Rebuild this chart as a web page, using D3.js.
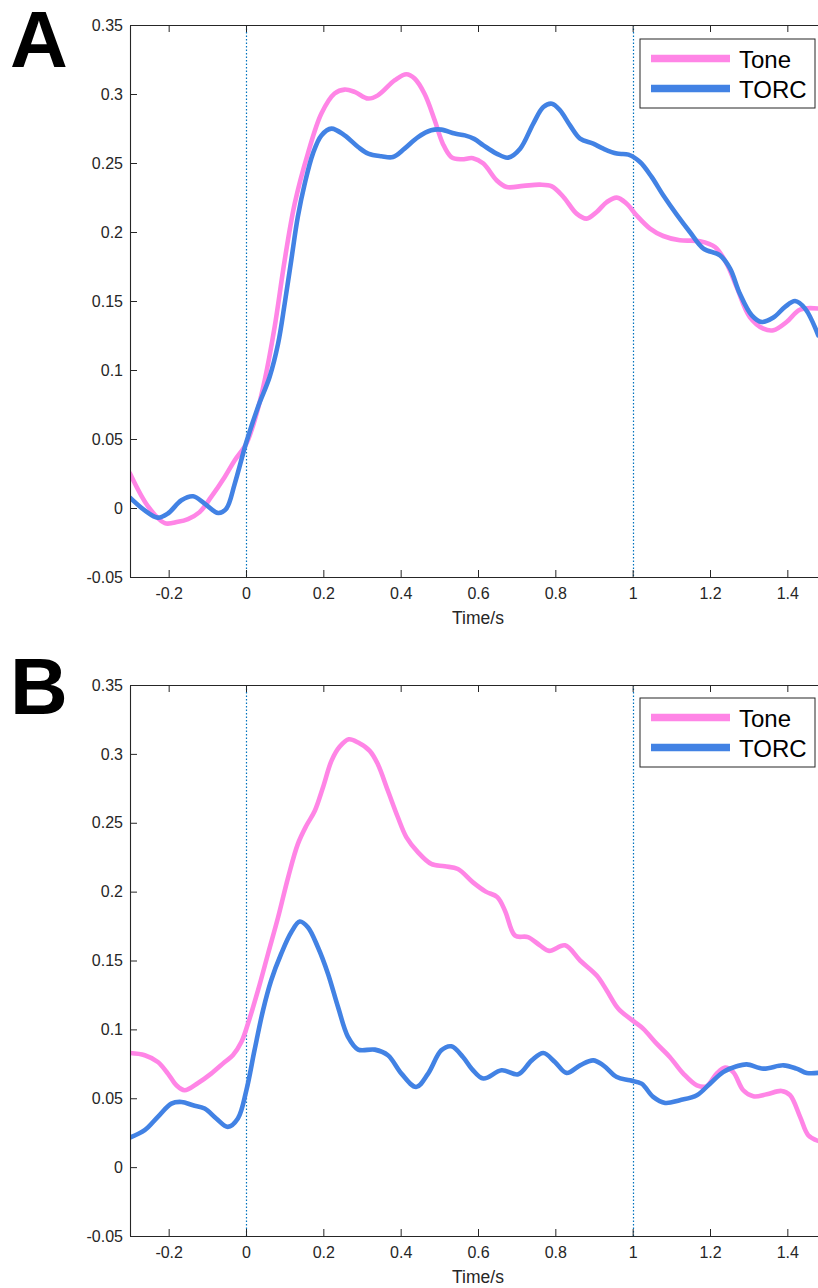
<!DOCTYPE html>
<html>
<head>
<meta charset="utf-8">
<script src="https://cdn.jsdelivr.net/npm/d3@7"></script>
<style>
  body { margin: 0; background: #fff; }
  svg { display: block; font-family: "Liberation Sans", Arial, Helvetica, sans-serif; }
</style>
</head>
<body>
<div id="chart"></div>
<script>
// time axis (s) and tick values
const xTicks = [-0.2, 0, 0.2, 0.4, 0.6, 0.8, 1, 1.2, 1.4];
const yTicks = [-0.05, 0, 0.05, 0.1, 0.15, 0.2, 0.25, 0.3, 0.35];
const seriesNames = ["Tone", "TORC"];
const markerTimes = [0, 1];

// panel A, Tone: [time, value]
const toneA = [
  [-0.3, 0.025], [-0.253, 0.001], [-0.21, -0.011], [-0.176, -0.010], [-0.15, -0.008],
  [-0.12, -0.003], [-0.09, 0.008], [-0.055, 0.0225], [-0.029, 0.0346], [0.001, 0.0467],
  [0.027, 0.068], [0.048, 0.092], [0.074, 0.131], [0.1, 0.1795], [0.126, 0.2206],
  [0.16, 0.2568], [0.195, 0.2858], [0.229, 0.3003], [0.255, 0.3032], [0.281, 0.3015],
  [0.316, 0.2967], [0.341, 0.299], [0.385, 0.310], [0.415, 0.3143], [0.436, 0.3112],
  [0.462, 0.300], [0.488, 0.281], [0.509, 0.264], [0.531, 0.2543], [0.557, 0.2527],
  [0.587, 0.2535], [0.614, 0.2496], [0.648, 0.2375], [0.674, 0.2326], [0.717, 0.2334],
  [0.76, 0.2343], [0.791, 0.2331], [0.821, 0.2254], [0.855, 0.2133], [0.881, 0.2097],
  [0.907, 0.2145], [0.933, 0.2217], [0.959, 0.2249], [0.984, 0.2206], [1.01, 0.2121],
  [1.045, 0.2025], [1.079, 0.1971], [1.122, 0.194], [1.174, 0.1933], [1.213, 0.1891],
  [1.243, 0.1771], [1.269, 0.160], [1.303, 0.1384], [1.338, 0.130], [1.364, 0.1288],
  [1.398, 0.1348], [1.433, 0.1438], [1.48, 0.1445]
];

// panel A, TORC
const torcA = [
  [-0.3, 0.0075], [-0.262, -0.0017], [-0.228, -0.007], [-0.202, -0.004], [-0.167, 0.0056],
  [-0.137, 0.0085], [-0.107, 0.0032], [-0.072, -0.0036], [-0.051, -0.0005], [-0.029, 0.0177],
  [0.001, 0.0478], [0.031, 0.0732], [0.061, 0.0949], [0.083, 0.1191], [0.1, 0.148],
  [0.117, 0.1795], [0.134, 0.2109], [0.152, 0.2351], [0.173, 0.2568], [0.195, 0.270],
  [0.221, 0.2749], [0.255, 0.270], [0.29, 0.2616], [0.316, 0.2568], [0.35, 0.2549],
  [0.38, 0.2543], [0.41, 0.2604], [0.445, 0.2688], [0.479, 0.2737], [0.505, 0.2742],
  [0.54, 0.2713], [0.566, 0.270], [0.59, 0.2675], [0.614, 0.2628], [0.648, 0.2568],
  [0.678, 0.2539], [0.709, 0.2604], [0.743, 0.2786], [0.769, 0.2906], [0.791, 0.293],
  [0.812, 0.2882], [0.838, 0.2773], [0.864, 0.2677], [0.898, 0.264], [0.924, 0.2604],
  [0.959, 0.2568], [0.989, 0.2561], [1.019, 0.2507], [1.049, 0.2399], [1.079, 0.2266],
  [1.114, 0.2126], [1.148, 0.200], [1.183, 0.188], [1.226, 0.1831], [1.252, 0.1735],
  [1.277, 0.1554], [1.308, 0.1396], [1.334, 0.1348], [1.364, 0.138], [1.394, 0.1457],
  [1.42, 0.150], [1.446, 0.1445], [1.48, 0.1251]
];

// panel B, Tone
const toneB = [
  [-0.3, 0.0828], [-0.262, 0.0812], [-0.228, 0.0763], [-0.202, 0.0679], [-0.18, 0.0594],
  [-0.159, 0.0558], [-0.124, 0.0611], [-0.09, 0.0679], [-0.055, 0.0763], [-0.034, 0.0812],
  [-0.012, 0.0908], [0.005, 0.1041], [0.031, 0.1283], [0.057, 0.1549], [0.083, 0.1814],
  [0.109, 0.2104], [0.134, 0.2345], [0.156, 0.2478], [0.178, 0.2587], [0.199, 0.2756],
  [0.221, 0.2949], [0.242, 0.3051], [0.266, 0.3106], [0.29, 0.3082], [0.32, 0.3022],
  [0.341, 0.2925], [0.367, 0.2732], [0.393, 0.2538], [0.415, 0.2394], [0.445, 0.2285],
  [0.479, 0.2201], [0.514, 0.2184], [0.548, 0.2164], [0.587, 0.2067], [0.62, 0.200],
  [0.65, 0.196], [0.67, 0.186], [0.696, 0.168], [0.729, 0.167], [0.76, 0.161],
  [0.784, 0.157], [0.825, 0.161], [0.864, 0.150], [0.907, 0.1391], [0.933, 0.1283],
  [0.963, 0.115], [1.002, 0.106], [1.027, 0.1005], [1.062, 0.0896], [1.096, 0.080],
  [1.131, 0.0679], [1.166, 0.0594], [1.191, 0.0587], [1.217, 0.0679], [1.239, 0.0722],
  [1.26, 0.069], [1.286, 0.0558], [1.312, 0.0514], [1.347, 0.0529], [1.385, 0.0553],
  [1.407, 0.0522], [1.433, 0.0365], [1.454, 0.0232], [1.48, 0.019]
];

// panel B, TORC
const torcB = [
  [-0.3, 0.0215], [-0.262, 0.0268], [-0.228, 0.0365], [-0.193, 0.0461], [-0.167, 0.0473],
  [-0.137, 0.0449], [-0.107, 0.0425], [-0.077, 0.0353], [-0.047, 0.0292], [-0.021, 0.0353],
  [0.001, 0.0558], [0.022, 0.0848], [0.044, 0.1138], [0.065, 0.1355], [0.091, 0.1549],
  [0.117, 0.1705], [0.139, 0.1783], [0.16, 0.1741], [0.186, 0.1596], [0.212, 0.1404],
  [0.238, 0.1162], [0.264, 0.0944], [0.29, 0.0853], [0.333, 0.0853], [0.367, 0.0812],
  [0.402, 0.0679], [0.44, 0.0582], [0.471, 0.0679], [0.505, 0.0848], [0.531, 0.0877],
  [0.561, 0.080], [0.585, 0.071], [0.614, 0.0643], [0.661, 0.0703], [0.704, 0.0674],
  [0.739, 0.0775], [0.769, 0.0828], [0.799, 0.0763], [0.829, 0.0684], [0.864, 0.0739],
  [0.898, 0.0775], [0.924, 0.0739], [0.959, 0.0654], [0.993, 0.063], [1.023, 0.0606],
  [1.053, 0.051], [1.084, 0.0466], [1.122, 0.0486], [1.166, 0.0522], [1.2, 0.0606],
  [1.234, 0.069], [1.269, 0.0732], [1.295, 0.0746], [1.338, 0.0715], [1.39, 0.0739],
  [1.424, 0.0715], [1.45, 0.0684], [1.48, 0.0684]
];

const colors = { Tone: "#ff85e6", TORC: "#4282e4" };
const axisColor = "#262626";

const width = 818, height = 1288;
const svg = d3.select("#chart").append("svg")
  .attr("width", width)
  .attr("height", height);

// same x scale for both panels; right end of the axes is cut off by the page
const xScale = d3.scaleLinear().domain([-0.3, 1.5]).range([130, 826]);

const fmt = d => (+d.toFixed(2)).toString();

function drawPanel(cfg) {
  const yScale = d3.scaleLinear().domain([-0.05, 0.35]).range([cfg.bottom, cfg.top]);
  const g = svg.append("g");

  const clipId = "clip" + cfg.letter;
  svg.append("clipPath").attr("id", clipId)
    .append("rect")
    .attr("x", xScale.range()[0]).attr("y", cfg.top)
    .attr("width", xScale.range()[1] - xScale.range()[0])
    .attr("height", cfg.bottom - cfg.top);

  // dotted stimulus markers
  g.selectAll("line.marker").data(markerTimes).join("line")
    .attr("class", "marker")
    .attr("x1", d => Math.round(xScale(d)) + 0.5).attr("x2", d => Math.round(xScale(d)) + 0.5)
    .attr("y1", cfg.top).attr("y2", cfg.bottom)
    .attr("stroke", "#0072bd")
    .attr("stroke-width", 1.2)
    .attr("stroke-dasharray", "1.5,2");

  const line = d3.line()
    .x(d => xScale(d[0]))
    .y(d => yScale(d[1]))
    .curve(d3.curveCatmullRom.alpha(0.5));

  const lines = g.append("g").attr("clip-path", `url(#${clipId})`);
  [["Tone", cfg.tone], ["TORC", cfg.torc]].forEach(([name, data]) => {
    lines.append("path")
      .datum(data)
      .attr("fill", "none")
      .attr("stroke", colors[name])
      .attr("stroke-width", 4.6)
      .attr("stroke-linejoin", "round")
      .attr("stroke-linecap", "round")
      .attr("d", line);
  });

  // axes, ticks inward like MATLAB
  const xAxis = d3.axisBottom(xScale).tickValues(xTicks).tickFormat(fmt)
    .tickSizeInner(-7).tickSizeOuter(0).tickPadding(11);
  const xg = g.append("g")
    .attr("transform", `translate(0,${cfg.bottom})`)
    .call(xAxis);

  const xTop = d3.axisTop(xScale).tickValues(xTicks).tickFormat("")
    .tickSizeInner(-7).tickSizeOuter(0);
  const tg = g.append("g")
    .attr("transform", `translate(0,${cfg.top})`)
    .call(xTop);

  const yAxis = d3.axisLeft(yScale).tickValues(yTicks).tickFormat(fmt)
    .tickSizeInner(-7).tickSizeOuter(0).tickPadding(7);
  const yg = g.append("g")
    .attr("transform", `translate(${xScale.range()[0]},0)`)
    .call(yAxis);

  [xg, tg, yg].forEach(a => {
    a.select(".domain").attr("stroke", axisColor).attr("stroke-width", 1.1);
    a.selectAll(".tick line").attr("stroke", axisColor).attr("stroke-width", 1);
    a.selectAll(".tick text").attr("fill", axisColor).attr("font-size", 16)
      .attr("font-family", "Liberation Sans, Arial, sans-serif");
  });

  g.append("text")
    .attr("x", xScale(0.6))
    .attr("y", cfg.bottom + 47)
    .attr("text-anchor", "middle")
    .attr("font-size", 17.5)
    .attr("fill", axisColor)
    .text("Time/s");

  // legend
  const lg = g.append("g").attr("transform", `translate(640,${cfg.legendTop})`);
  lg.append("rect")
    .attr("x", 0).attr("y", 0).attr("width", 175).attr("height", 69)
    .attr("fill", "#fff").attr("stroke", axisColor).attr("stroke-width", 1);
  seriesNames.forEach((name, i) => {
    const yy = 19.5 + i * 30;
    lg.append("line")
      .attr("x1", 11).attr("x2", 90)
      .attr("y1", yy).attr("y2", yy)
      .attr("stroke", colors[name]).attr("stroke-width", 7.5);
    lg.append("text")
      .attr("x", 99).attr("y", yy + 9.5)
      .attr("font-size", 24)
      .attr("fill", "#000")
      .text(name);
  });

  // panel letter
  svg.append("text")
    .attr("x", 10)
    .attr("y", cfg.letterY)
    .attr("font-size", 80)
    .attr("font-weight", "bold")
    .attr("font-family", "Liberation Sans, Arial, sans-serif")
    .attr("fill", "#000")
    .text(cfg.letter);
}

drawPanel({ letter: "A", top: 25, bottom: 577, legendTop: 39, letterY: 67, tone: toneA, torc: torcA });
drawPanel({ letter: "B", top: 685, bottom: 1236, legendTop: 698, letterY: 714, tone: toneB, torc: torcB });
</script>
</body>
</html>
